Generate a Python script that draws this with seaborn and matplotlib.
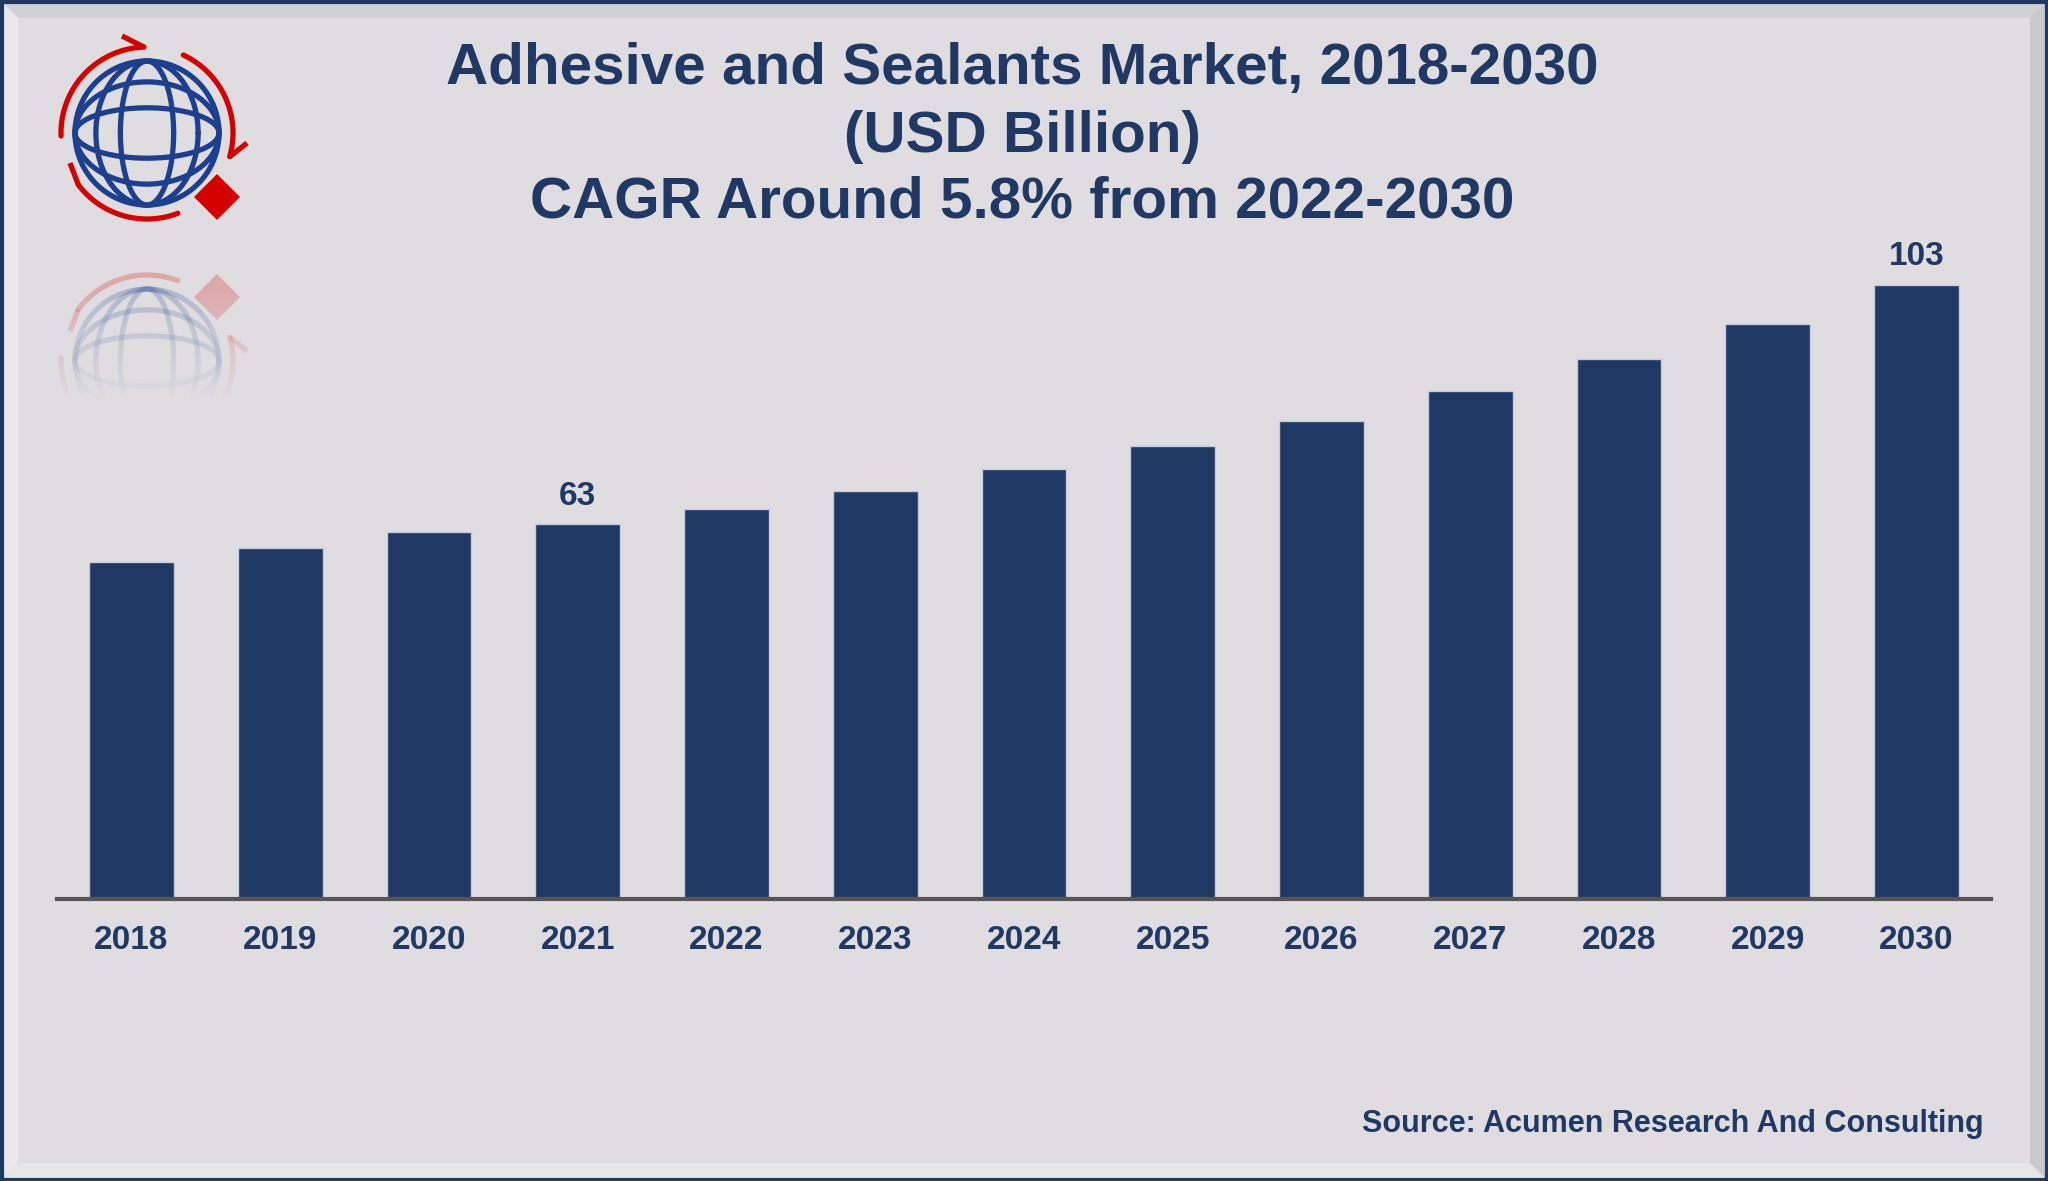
import matplotlib
matplotlib.use("Agg")
import matplotlib.pyplot as plt
import seaborn as sns
import numpy as np
import pandas as pd
from matplotlib.patches import Rectangle, Polygon

# chart data
years = ["2018", "2019", "2020", "2021", "2022", "2023", "2024",
         "2025", "2026", "2027", "2028", "2029", "2030"]
market_size = [56.5, 58.8, 61.5, 62.8, 65.4, 68.4, 72.0,
               75.9, 80.2, 85.2, 90.5, 96.4, 103.0]
shown_labels = {"2021": "63", "2030": "103"}

title_lines = ["Adhesive and Sealants Market, 2018-2030",
               "(USD Billion)",
               "CAGR Around 5.8% from 2022-2030"]
source_text = "Source: Acumen Research And Consulting"

NAVY = "#203864"
BG = "#dfdde0"
W, H = 2048, 1181

sns.set_theme(style="white")
plt.rcParams["font.family"] = ["Liberation Sans", "DejaVu Sans"]

fig = plt.figure(figsize=(W / 100, H / 100), dpi=100)
fig.patch.set_facecolor(BG)

# decoration layer in pixel coordinates (y up)
deco = fig.add_axes([0, 0, 1, 1], zorder=0)
deco.set_autoscale_on(False)
deco.axis("off")

# bevelled frame
b, o = 15, 3
deco.add_patch(Polygon([(o, H - o), (W - o, H - o), (W - o - b, H - o - b), (o + b, H - o - b)], color="#d1d0d3", lw=0))
deco.add_patch(Polygon([(o, o), (W - o, o), (W - o - b, o + b), (o + b, o + b)], color="#e6e5e8", lw=0))
deco.add_patch(Polygon([(o, o), (o, H - o), (o + b, H - o - b), (o + b, o + b)], color="#e9e8eb", lw=0))
deco.add_patch(Polygon([(W - o, o), (W - o, H - o), (W - o - b, H - o - b), (W - o - b, o + b)], color="#c9c9cb", lw=0))
deco.add_patch(Rectangle((1.5, 1.5), W - 3, H - 3, fill=False, edgecolor="#1f3864", lw=3))

# logo (globe with arrows), drawn in image pixel coords (y down)
CX, CY, R, RA = 147, 133, 72, 86
MIRROR_Y = 247


def to_deco(px, py, mirror):
    px, py = np.asarray(px, float), np.asarray(py, float)
    if mirror:
        py = 2 * MIRROR_Y - py
    return px, H - py


def draw_logo(ax, mirror=False, alpha=1.0):
    t = np.linspace(0, 2 * np.pi, 200)
    blue, red = "#1c3f8f", "#d40000"
    # globe outline + meridians + parallels
    for wx, wy in [(1, 1), (0.37, 1), (0.71, 1), (1, 0.35), (1, 0.71)]:
        x, y = to_deco(CX + R * wx * np.cos(t), CY + R * wy * np.sin(t), mirror)
        ax.plot(x, y, color=blue, lw=3.8, alpha=alpha, solid_capstyle="round")
    # red arrows around: (start angle, end angle, barb end, barb at start?)
    arcs = [(92, 182, (122, 36), True), (-16, 65, (247, 143), True), (217, 291, (70, 163), True)]
    for a0, a1, barb, at_start in arcs:
        a = np.radians(np.linspace(a0, a1, 60))
        x, y = to_deco(CX + RA * np.cos(a), CY - RA * np.sin(a), mirror)
        ax.plot(x, y, color=red, lw=3.8, alpha=alpha)
        ae = np.radians(a0 if at_start else a1)
        ex, ey = CX + RA * np.cos(ae), CY - RA * np.sin(ae)
        bx, by = to_deco([ex, barb[0]], [ey, barb[1]], mirror)
        ax.plot(bx, by, color=red, lw=3.8, alpha=alpha, solid_capstyle="butt")
    # red diamond
    dx, dy, d = 217, 197, 23
    px, py = to_deco([dx, dx + d, dx, dx - d], [dy - d, dy, dy + d, dy], mirror)
    ax.add_patch(Polygon(np.column_stack([px, py]), color=red, alpha=alpha, lw=0))


draw_logo(deco)
draw_logo(deco, mirror=True, alpha=0.24)

# fade out the reflection
ys = np.linspace(260, 480, 200)
fade = np.clip((ys - 285) / 115, 0, 1)
rgb = matplotlib.colors.to_rgb(BG)
grad = np.zeros((len(ys), 1, 4))
grad[:, 0, :3] = rgb
grad[:, 0, 3] = fade
deco.imshow(grad, extent=[30, 280, H - 480, H - 260], aspect="auto", zorder=5, interpolation="bilinear")
deco.set_xlim(0, W)
deco.set_ylim(0, H)

# bar chart
ax = fig.add_axes([57 / W, (H - 899) / H, (1991 - 57) / W, 699 / H], zorder=1)
ax.patch.set_alpha(0)
df = pd.DataFrame({"year": years, "value": market_size})
sns.barplot(data=df, x="year", y="value", color=NAVY, saturation=1, width=0.57,
            edgecolor="#c5ccd8", linewidth=1, ax=ax)

ax.set_xlim(-0.5, len(years) - 0.5)
ax.set_ylim(0, 103 * 699 / 614.5)
sns.despine(ax=ax, left=True, top=True, right=True)
ax.spines["bottom"].set_color("#555555")
ax.spines["bottom"].set_linewidth(3)
ax.set_yticks([])
ax.set_xlabel("")
ax.set_ylabel("")
ax.tick_params(axis="x", length=0, pad=19, labelsize=24, labelcolor=NAVY)
for lbl in ax.get_xticklabels():
    lbl.set_fontweight("bold")

for patch, year in zip(ax.patches, years):
    if year in shown_labels:
        ax.annotate(shown_labels[year],
                    (patch.get_x() + patch.get_width() / 2, patch.get_height()),
                    xytext=(0, 14), textcoords="offset points",
                    ha="center", va="baseline", fontsize=24,
                    fontweight="bold", color=NAVY)

# titles and source
for line, base in zip(title_lines, [84, 152, 217]):
    fig.text(1022 / W, 1 - base / H, line, ha="center", va="baseline",
             fontsize=42, fontweight="bold", color=NAVY)
fig.text(1984 / W, 1 - 1132 / H, source_text, ha="right", va="baseline",
         fontsize=22, fontweight="bold", color=NAVY)

fig.savefig("out.png", dpi=100, facecolor=fig.get_facecolor())
